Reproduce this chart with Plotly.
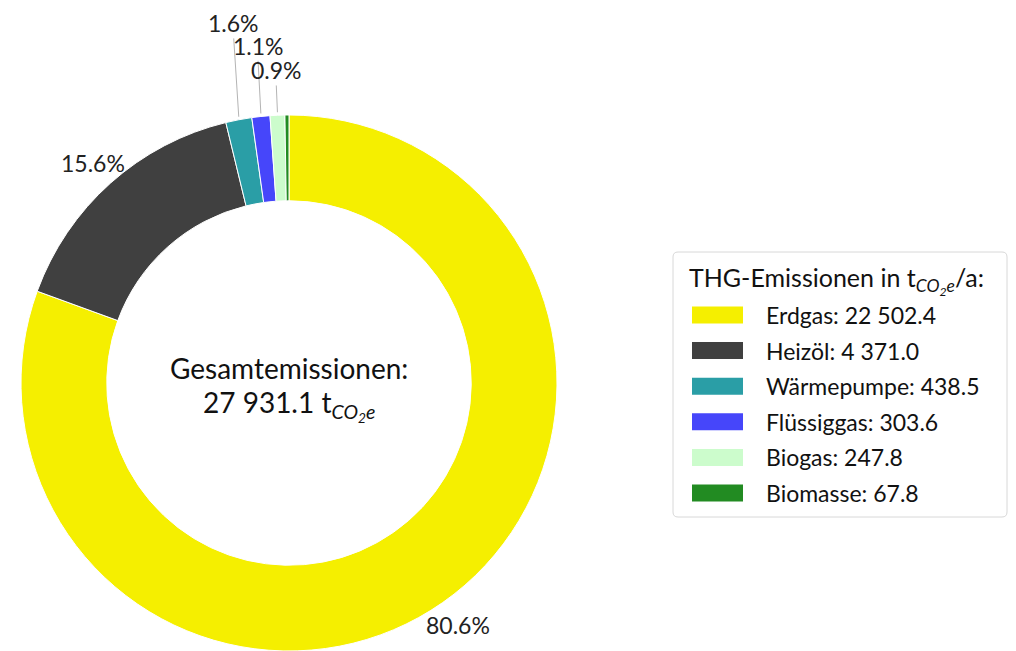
import math
import plotly.graph_objects as go

# Emissions by energy carrier (t CO2e per year)
carriers = ["Erdgas", "Heizöl", "Wärmepumpe", "Flüssiggas", "Biogas", "Biomasse"]
emissions = [22502.4, 4371.0, 438.5, 303.6, 247.8, 67.8]
colors = ["#f5ef00", "#404040", "#2a9ea6", "#4646fa", "#ccfccc", "#228b22"]

W, H = 1016, 651
FONT = "Lato"
CX, CY, R = 289, 383, 268          # donut centre / outer radius in px
HOLE = 0.68

total = sum(emissions)
shares = [v / total * 100 for v in emissions]


def fmt(v):
    return f"{v:,.1f}".replace(",", " ")


def px(x, y):
    return x / W, 1 - y / H


fig = go.Figure()
fig.add_trace(go.Pie(
    labels=carriers,
    values=emissions,
    hole=HOLE,
    sort=False,
    direction="clockwise",
    rotation=0,
    marker=dict(colors=colors, line=dict(color="white", width=1)),
    textinfo="none",
    hoverinfo="label+value+percent",
    showlegend=False,
    domain=dict(x=[(CX - R) / W, (CX + R) / W], y=[0, 2 * R / H]),
))

annotations = []
shapes = []

# percentage labels around the ring
cum = 0.0
small = [i for i, s in enumerate(shares) if 0.5 <= s < 2]
for i, s in enumerate(shares):
    mid = cum + s / 2
    cum += s
    ang = math.radians(90 - mid / 100 * 360)
    if s < 0.5:
        continue
    lx = CX + 1.1 * R * math.cos(ang)
    if s >= 2:
        ly = CY - 1.1 * R * math.sin(ang)
    else:
        # stack small labels above the ring, smallest lowest
        k = len(small) - 1 - small.index(i)
        ly = CY - 1.1 * R * math.sin(ang) - 18 - 26 * k
        x0 = CX + R * math.cos(ang)
        y0 = CY - R * math.sin(ang) - 3
        ax, ay = px(x0, y0)
        bx, by = px(lx, ly + 15)
        shapes.append(dict(type="line", xref="paper", yref="paper",
                           x0=ax, y0=ay, x1=bx, y1=by,
                           line=dict(color="#b4b4b4", width=1)))
    x, y = px(lx, ly)
    annotations.append(dict(x=x, y=y, xref="paper", yref="paper",
                            text=f"{s:.1f}%", showarrow=False,
                            font=dict(family=FONT, size=23, color="#222"),
                            xanchor="center", yanchor="middle"))

# centre text
x, y = px(CX, 368)
annotations.append(dict(x=x, y=y, xref="paper", yref="paper",
                        text="Gesamtemissionen:", showarrow=False,
                        font=dict(family=FONT, size=28, color="#111"),
                        xanchor="center", yanchor="middle"))
x, y = px(CX, 405)
annotations.append(dict(x=x, y=y, xref="paper", yref="paper",
                        text=f"{fmt(total)} t<sub><i>CO<sub>2</sub>e</i></sub>",
                        showarrow=False,
                        font=dict(family=FONT, size=28, color="#111"),
                        xanchor="center", yanchor="middle"))

# legend box
LX0, LX1, LY0, LY1, RAD = 673, 1007, 252, 517, 5
bx0, by0 = px(LX0, LY0)
bx1, by1 = px(LX1, LY1)
rx, ry = RAD / W, RAD / H
path = (f"M {bx0 + rx} {by0} L {bx1 - rx} {by0} Q {bx1} {by0} {bx1} {by0 - ry} "
        f"L {bx1} {by1 + ry} Q {bx1} {by1} {bx1 - rx} {by1} "
        f"L {bx0 + rx} {by1} Q {bx0} {by1} {bx0} {by1 + ry} "
        f"L {bx0} {by0 - ry} Q {bx0} {by0} {bx0 + rx} {by0} Z")
shapes.append(dict(type="path", xref="paper", yref="paper", path=path,
                   line=dict(color="#d8d8d8", width=1), fillcolor="white",
                   layer="below"))

x, y = px(687, 280)
annotations.append(dict(x=x, y=y, xref="paper", yref="paper",
                        text="THG-Emissionen in t<sub><i>CO<sub>2</sub>e</i></sub>/a:",
                        showarrow=False,
                        font=dict(family=FONT, size=25, color="#111"),
                        xanchor="left", yanchor="middle"))

ROW0, STEP = 315, 35.6
for i, (name, v, c) in enumerate(zip(carriers, emissions, colors)):
    yc = ROW0 + i * STEP
    sx0, sy0 = px(692, yc - 8.5)
    sx1, sy1 = px(743, yc + 8.5)
    shapes.append(dict(type="rect", xref="paper", yref="paper",
                       x0=sx0, y0=sy0, x1=sx1, y1=sy1,
                       fillcolor=c, line=dict(width=0)))
    tx, ty = px(764, yc)
    annotations.append(dict(x=tx, y=ty, xref="paper", yref="paper",
                            text=f"{name}: {fmt(v)}", showarrow=False,
                            font=dict(family=FONT, size=23, color="#111"),
                            xanchor="left", yanchor="middle"))

fig.update_layout(
    width=W, height=H,
    margin=dict(l=0, r=0, t=0, b=0),
    paper_bgcolor="white", plot_bgcolor="white",
    font=dict(family=FONT),
    annotations=annotations,
    shapes=shapes,
    showlegend=False,
)

fig.write_html("out.html")
